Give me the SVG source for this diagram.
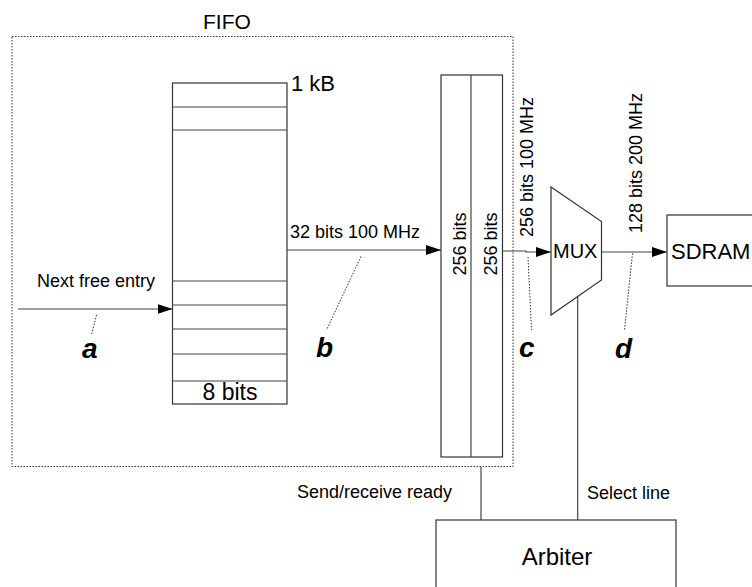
<svg xmlns="http://www.w3.org/2000/svg" width="752" height="587" viewBox="0 0 752 587">
<style>
text{font-family:"Liberation Sans",Arial,sans-serif;fill:#000}
.box{fill:#fff;stroke:#333;stroke-width:1.2}
.ln{stroke:#444;stroke-width:1.2;fill:none}
.dot{stroke:#333;stroke-width:1;stroke-dasharray:1.5,1.5;fill:none}
.lbl{font-size:18px}
.big{font-size:22px}
.tag{font-size:28px;font-weight:bold;font-style:italic}
</style>
<defs>
<marker id="ah" markerWidth="15" markerHeight="10" refX="15" refY="5" orient="auto" markerUnits="userSpaceOnUse">
<path d="M0,0 L15,5 L0,10 Z" fill="#000"/>
</marker>
</defs>
<rect width="752" height="587" fill="#fff"/>

<g id="fifo">
<rect x="12" y="36.5" width="501" height="430" fill="none" stroke="#333" stroke-width="1" stroke-dasharray="1.5,1.5"/>
<text x="203" y="29" class="lbl" style="font-size:21px">FIFO</text>
</g>

<g id="memory">
<rect class="box" x="172.5" y="83" width="114.5" height="321"/>
<path class="ln" d="M172.5,107H287M172.5,130H287M172.5,281H287M172.5,305H287M172.5,329H287M172.5,354H287M172.5,381H287"/>
<text x="291" y="91" class="big">1 kB</text>
<text x="230" y="400" class="big" text-anchor="middle" style="font-size:23px">8 bits</text>
</g>

<g id="buffer">
<rect class="box" x="441" y="75" width="61.5" height="382"/>
<line class="ln" x1="471" y1="75" x2="471" y2="457"/>
<text class="lbl" text-anchor="middle" transform="translate(466,244) rotate(-90)">256 bits</text>
<text class="lbl" text-anchor="middle" transform="translate(497,244) rotate(-90)">256 bits</text>
</g>

<g id="mux">
<path class="box" d="M551,187 L601.5,221.5 L601.5,280 L551,315 Z"/>
<text x="553" y="258" style="font-size:20px">MUX</text>
</g>

<g id="sdram">
<rect class="box" x="667" y="215" width="100" height="71"/>
<text x="671" y="259" class="big">SDRAM</text>
</g>

<g id="arbiter">
<rect class="box" x="436" y="520" width="240" height="80"/>
<text x="557" y="565" text-anchor="middle" style="font-size:24px">Arbiter</text>
</g>

<g id="connectors">
<line class="ln" x1="18" y1="309" x2="172.5" y2="309" marker-end="url(#ah)"/>
<line class="ln" x1="287" y1="250" x2="441" y2="250" marker-end="url(#ah)"/>
<path class="ln" d="M502.5,251 H526 V252 H551" marker-end="url(#ah)"/>
<line class="ln" x1="601.5" y1="252" x2="667" y2="252" marker-end="url(#ah)"/>
<line class="ln" x1="577.7" y1="296.5" x2="577.7" y2="520"/>
<line class="ln" x1="481" y1="467" x2="481" y2="520"/>
<line class="dot" x1="96.5" y1="315" x2="91.5" y2="335"/>
<line class="dot" x1="361" y1="256.5" x2="326.5" y2="330"/>
<line class="dot" x1="528" y1="257" x2="531.5" y2="330"/>
<line class="dot" x1="632.5" y1="253.5" x2="624.5" y2="330"/>
</g>

<g id="labels">
<text x="37" y="287" class="lbl">Next free entry</text>
<text x="290" y="238" class="lbl">32 bits 100 MHz</text>
<text class="lbl" transform="translate(533,237) rotate(-90)">256 bits 100 MHz</text>
<text class="lbl" transform="translate(641.5,233) rotate(-90)">128 bits 200 MHz</text>
<text x="452" y="498" class="lbl" text-anchor="end">Send/receive ready</text>
<text x="587" y="499" class="lbl">Select line</text>
<text x="82" y="358" class="tag">a</text>
<text x="316" y="357" class="tag">b</text>
<text x="519" y="357" class="tag">c</text>
<text x="615" y="358" class="tag">d</text>
</g>
</svg>
